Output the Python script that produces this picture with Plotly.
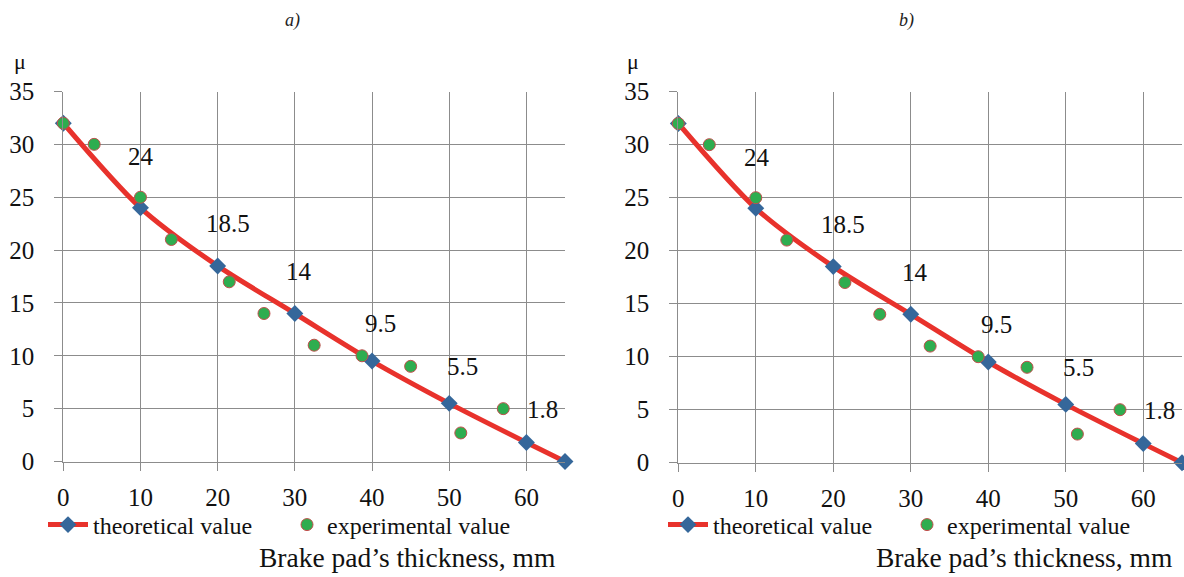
import plotly.graph_objects as go

# ---- data ----
theo_x = [0, 10, 20, 30, 40, 50, 60, 65]
theo_y = [32, 24, 18.5, 14, 9.5, 5.5, 1.8, 0]
label_x = [10, 20, 30, 40, 50, 60]
label_y = [24, 18.5, 14, 9.5, 5.5, 1.8]
label_text = ["24", "18.5", "14", "9.5", "5.5", "1.8"]
exp_x = [0, 4, 10, 14, 21.5, 26, 32.5, 38.7, 45, 51.5, 57]
exp_y = [32, 30, 25, 21, 17, 14, 11, 10, 9, 2.7, 5]
x_ticks = [0, 10, 20, 30, 40, 50, 60]
y_ticks = [0, 5, 10, 15, 20, 25, 30, 35]
panel_titles = ["a)", "b)"]
x_title = "Brake pad’s thickness, mm"
y_title = "μ"
theo_name = "theoretical value"
exp_name = "experimental value"

# ---- style ----
W, H = 1184, 577
FONT = "Liberation Serif, Times New Roman, serif"
RED = "#E8322C"
BLUE = "#35679A"
GREEN = "#2EAD4F"
GRID = "#8C8C8C"
label_shift = [(1, 51), (10, 42), (4, 42), (8, 38), (13, 37), (16, 33)]

panels = [
    dict(xd=(63.3, 565.0), yd=(461.5, 91.5), title_x=292, mu_x=20,
         leg_line=48, leg_circle=305),
    dict(xd=(678.3, 1182.0), yd=(462.7, 91.7), title_x=906, mu_x=633,
         leg_line=668, leg_circle=925),
]

fig = go.Figure()
annotations = []
layout_axes = {}
legends = {}

for i, p in enumerate(panels):
    n = "" if i == 0 else str(i + 1)
    xa, ya = "x" + n, "y" + n
    lg1 = "legend%d" % (2 * i + 2)
    lg2 = "legend%d" % (2 * i + 3)
    fig.add_trace(go.Scatter(
        x=theo_x, y=theo_y, mode="lines+markers", name=theo_name,
        line=dict(color=RED, width=5, shape="spline", smoothing=0.8),
        marker=dict(symbol="diamond", size=13, color=BLUE),
        xaxis=xa, yaxis=ya, legend=lg1, cliponaxis=False, showlegend=True))
    fig.add_trace(go.Scatter(
        x=exp_x, y=exp_y, mode="markers", name=exp_name,
        marker=dict(symbol="circle", size=12, color=GREEN,
                    line=dict(color="#C0504D", width=1)),
        xaxis=xa, yaxis=ya, legend=lg2, cliponaxis=False, showlegend=True))

    axis_common = dict(
        showgrid=True, gridcolor=GRID, gridwidth=1.3,
        showline=True, linecolor=GRID, linewidth=1.3,
        ticks="outside", ticklen=8, tickwidth=1.3, tickcolor=GRID,
        zeroline=False, automargin=False,
        tickfont=dict(family=FONT, size=25, color="#111"),
        fixedrange=True,
    )
    layout_axes["xaxis" + n] = dict(
        axis_common, domain=[p["xd"][0] / W, p["xd"][1] / W],
        range=[0, 65], tickvals=x_ticks, anchor=ya, ticklabelstandoff=5)
    layout_axes["yaxis" + n] = dict(
        axis_common, domain=[(H - p["yd"][0]) / H, (H - p["yd"][1]) / H],
        range=[0, 35], tickvals=y_ticks, anchor=xa, ticklabelstandoff=15)

    for (lx, ly, lt), (dx, dy) in zip(zip(label_x, label_y, label_text), label_shift):
        annotations.append(dict(
            x=lx, y=ly, xref=xa, yref=ya, text=lt, showarrow=False,
            xanchor="center", yanchor="middle",
            xshift=dx, yshift=dy, font=dict(family=FONT, size=25, color="#111")))

    annotations.append(dict(
        x=p["title_x"] / W, y=(H - 20) / H, xref="paper", yref="paper",
        text="<i>" + panel_titles[i] + "</i>", showarrow=False,
        xanchor="center", yanchor="middle",
        font=dict(family=FONT, size=18, color="#222")))
    annotations.append(dict(
        x=p["mu_x"] / W, y=(H - 62) / H, xref="paper", yref="paper",
        text=y_title, showarrow=False, xanchor="center", yanchor="middle",
        font=dict(family=FONT, size=22, color="#111")))
    annotations.append(dict(
        x=(p["xd"][1] - 8) / W, y=(H - 557) / H, xref="paper", yref="paper",
        text=x_title, showarrow=False, xanchor="right", yanchor="middle",
        font=dict(family=FONT, size=27.5, color="#111")))

    legfont = dict(family=FONT, size=24, color="#111")
    legends[lg1] = dict(x=(p["leg_line"] - 5) / W, y=(H - 525) / H,
                        xanchor="left", yanchor="middle", orientation="h",
                        font=legfont, bgcolor="rgba(0,0,0,0)", itemwidth=40,
                        visible=True)
    legends[lg2] = dict(x=(p["leg_circle"] - 18) / W, y=(H - 525) / H,
                        xanchor="left", yanchor="middle", orientation="h",
                        font=legfont, bgcolor="rgba(0,0,0,0)", visible=True)

fig.update_layout(
    width=W, height=H, margin=dict(l=0, r=0, t=0, b=0, autoexpand=False),
    paper_bgcolor="white", plot_bgcolor="white", showlegend=True,
    font=dict(family=FONT, size=24, color="#111"),
    annotations=annotations, **layout_axes, **legends,
)

fig.write_html("out.html", config={"displayModeBar": False},
               post_script="document.body.style.margin='0';")
